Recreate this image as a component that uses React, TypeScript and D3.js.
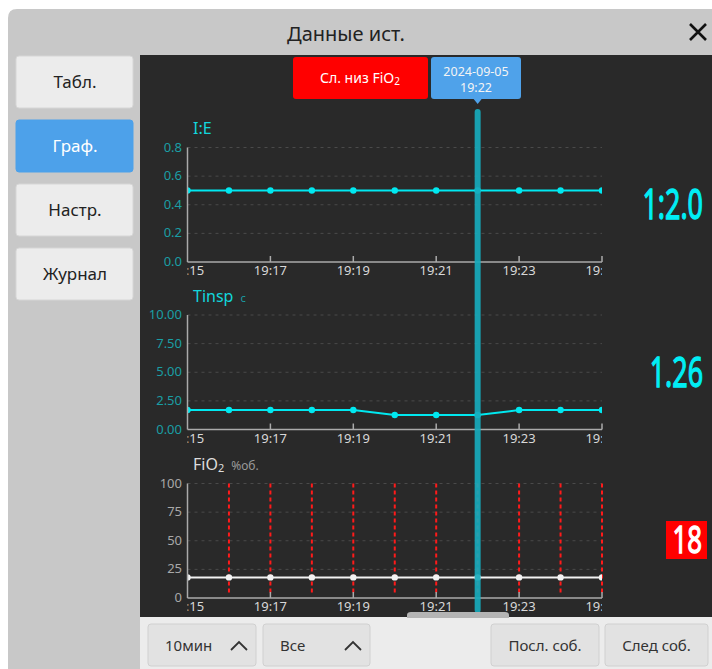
import * as d3 from "d3"

// time axis (minutes shown in the 10 min window)
const timeLabels = ["19:15", "19:16", "19:17", "19:18", "19:19", "19:20", "19:21", "19:22", "19:23", "19:24", "19:25"]
const axisTickTimes = ["19:15", "19:17", "19:19", "19:21", "19:23", "19:25"]
const alarmTimes = ["19:16", "19:17", "19:18", "19:19", "19:20", "19:21", "19:22", "19:23", "19:24", "19:25"]
const cursorTime = "19:22"
const cursorDate = "2024-09-05"

// series
const ieValues = [0.5, 0.5, 0.5, 0.5, 0.5, 0.5, 0.5, 0.5, 0.5, 0.5, 0.5]
const tinspValues = [1.7, 1.7, 1.7, 1.7, 1.7, 1.26, 1.26, 1.26, 1.7, 1.7, 1.7]
const fio2Values = [18, 18, 18, 18, 18, 18, 18, 18, 18, 18, 18]

const ieTicks = [0, 0.2, 0.4, 0.6, 0.8]
const tinspTicks = [0, 2.5, 5, 7.5, 10]
const fio2Ticks = [0, 25, 50, 75, 100]

const menuItems = ["Табл.", "Граф.", "Настр.", "Журнал"]
const activeMenu = "Граф."

const FONT = "'Noto Sans', 'Open Sans', sans-serif"
const parse = d3.timeParse("%Y-%m-%d %H:%M")
const toDate = (t: string) => parse(`${cursorDate} ${t}`) as Date

const X0 = 187.5
const X1 = 602
const PANEL_H = 114.5

const x = d3
  .scaleTime()
  .domain([toDate(timeLabels[0]), toDate(timeLabels[timeLabels.length - 1])])
  .range([X0, X1])

interface PanelProps {
  id: string
  top: number
  ticks: number[]
  fmt: string
  values: number[]
  color: string
  tickColor: string
  title: React.ReactNode
  alarms?: string[]
}

function Panel({ id, top, ticks, fmt, values, color, tickColor, title, alarms }: PanelProps) {
  const y = d3
    .scaleLinear()
    .domain([ticks[0], ticks[ticks.length - 1]])
    .range([top + PANEL_H, top])
  const format = d3.format(fmt)
  const pts = values.map((v, i) => [x(toDate(timeLabels[i])), y(v)] as [number, number])
  const line = d3.line()(pts) || ""
  const bottom = top + PANEL_H
  return (
    <g>
      <defs>
        <clipPath id={`clip-${id}`}>
          <rect x={X0} y={top - 20} width={X1 - X0} height={PANEL_H + 40} />
        </clipPath>
      </defs>
      {title}
      {ticks.map((t) => (
        <g key={t}>
          {t > 0 && (
            <line x1={X0} x2={X1} y1={y(t)} y2={y(t)} stroke="#4a4a4a" strokeDasharray="3,4" />
          )}
          <text x={182} y={y(t) + 4} textAnchor="end" fontSize={13} fill={tickColor} fontFamily={FONT}>
            {format(t)}
          </text>
        </g>
      ))}
      {alarms &&
        alarms.map((a) => (
          <line
            key={a}
            x1={x(toDate(a))}
            x2={x(toDate(a))}
            y1={top}
            y2={bottom - 3}
            stroke="#ff1a1a"
            strokeWidth={2}
            strokeDasharray="4,3"
          />
        ))}
      <g clipPath={`url(#clip-${id})`}>
        <path d={line} fill="none" stroke={color} strokeWidth={2} />
        {pts.map((p, i) => (
          <circle key={i} cx={p[0]} cy={p[1]} r={3.2} fill={color} />
        ))}
        {axisTickTimes.map((t) => (
          <text
            key={t}
            x={x(toDate(t))}
            y={bottom + 13}
            textAnchor="middle"
            fontSize={13}
            fill="#d8d8d8"
            fontFamily={FONT}
          >
            {t}
          </text>
        ))}
      </g>
      {axisTickTimes.slice(1).map((t) => (
        <line key={t} x1={x(toDate(t))} x2={x(toDate(t))} y1={bottom - 6} y2={bottom} stroke="#aaa" strokeWidth={1.5} />
      ))}
      <line x1={X0} x2={X0} y1={top} y2={bottom} stroke="#aaa" strokeWidth={1.5} />
      <line x1={X0} x2={X1} y1={bottom} y2={bottom} stroke="#aaa" strokeWidth={1.5} />
    </g>
  )
}

function Button({ x0, y0, w, h, label, chevron }: { x0: number; y0: number; w: number; h: number; label: string; chevron?: boolean }) {
  return (
    <g>
      <rect x={x0} y={y0} width={w} height={h} rx={3} fill="#e2e2e2" stroke="#d0d0d0" />
      {chevron ? (
        <>
          <text x={x0 + 17} y={y0 + 27} fontSize={15} fill="#333" fontFamily={FONT}>
            {label}
          </text>
          <path
            d={`M${x0 + w - 25},${y0 + 26} L${x0 + w - 17},${y0 + 18} L${x0 + w - 9},${y0 + 26}`}
            fill="none"
            stroke="#333"
            strokeWidth={1.8}
          />
        </>
      ) : (
        <text x={x0 + w / 2} y={y0 + 27} textAnchor="middle" fontSize={15} fill="#333" fontFamily={FONT}>
          {label}
        </text>
      )}
    </g>
  )
}

// big condensed readout, squeezed horizontally with a scale
function Readout({ x0, y0, size, sx, fill, text }: { x0: number; y0: number; size: number; sx: number; fill: string; text: string }) {
  return (
    <text
      transform={`translate(${x0},${y0}) scale(${sx},1)`}
      textAnchor="end"
      fontSize={size}
      fill={fill}
      stroke={fill}
      strokeWidth={1.3}
    >
      {text}
    </text>
  )
}

export default function App() {
  const cx = x(toDate(cursorTime))
  return (
    <svg width={712} height={669} style={{ position: "absolute", left: 0, top: 0 }} fontFamily={FONT}>
      <rect width={712} height={669} fill="#ffffff" />
      {/* dialog frame */}
      <path d="M8,18 Q8,9 17,9 L712,9 L712,669 L8,669 Z" fill="#c8c8c8" />
      <text x={346} y={41} textAnchor="middle" fontSize={20} fill="#222">
        Данные ист.
      </text>
      <path d="M690,24 L706,40 M706,24 L690,40" stroke="#111" strokeWidth={2.6} />

      {/* left menu */}
      {menuItems.map((m, i) => {
        const active = m === activeMenu
        const y0 = 56 + i * 64
        return (
          <g key={m}>
            <rect
              x={16}
              y={y0}
              width={117}
              height={52}
              rx={3}
              fill={active ? "#4da1ea" : "#ececec"}
              stroke={active ? "#4da1ea" : "#d6d6d6"}
            />
            <text x={75} y={y0 + 32} textAnchor="middle" fontSize={17} fill={active ? "#fff" : "#222"}>
              {m}
            </text>
          </g>
        )
      })}

      {/* dark chart area */}
      <rect x={140} y={55} width={572} height={562} fill="#292929" />

      {/* alarm + cursor tooltip */}
      <rect x={293} y={57} width={135} height={42} rx={3} fill="#ff0000" />
      <text x={360} y={83} textAnchor="middle" fontSize={14} fill="#fff">
        Сл. низ FiO<tspan fontSize={10} dy={2}>2</tspan>
      </text>
      <rect x={431} y={57} width={90} height={42} rx={3} fill="#4fa2ea" />
      <path d={`M${cx - 4},99 L${cx},104 L${cx + 4},99 Z`} fill="#4fa2ea" />
      <text x={476} y={76} textAnchor="middle" fontSize={12.5} fill="#f4f4f4">
        {cursorDate}
      </text>
      <text x={476} y={92} textAnchor="middle" fontSize={12.5} fill="#f4f4f4">
        {cursorTime}
      </text>

      <Panel
        id="ie"
        top={147.5}
        ticks={ieTicks}
        fmt=".1f"
        values={ieValues}
        color="#00e8f0"
        tickColor="#1a9ea4"
        title={
          <text x={193} y={134} fontSize={16} fill="#12d6dc">
            I:E
          </text>
        }
      />
      <Panel
        id="tinsp"
        top={315}
        ticks={tinspTicks}
        fmt=".2f"
        values={tinspValues}
        color="#00e8f0"
        tickColor="#1a9ea4"
        title={
          <text x={193} y={302} fontSize={16} fill="#12d6dc">
            Tinsp<tspan dx={7} fontSize={11} fill="#1a9ea4">c</tspan>
          </text>
        }
      />
      <Panel
        id="fio2"
        top={483.5}
        ticks={fio2Ticks}
        fmt="d"
        values={fio2Values}
        color="#f2f2f2"
        tickColor="#a8a8a8"
        alarms={alarmTimes}
        title={
          <text x={193} y={470} fontSize={16} fill="#dddddd">
            FiO<tspan fontSize={11} dy={2}>2</tspan>
            <tspan dx={7} dy={-2} fontSize={12} fill="#999">%об.</tspan>
          </text>
        }
      />

      {/* cursor */}
      <line x1={cx} x2={cx} y1={112} y2={610} stroke="#17abbc" strokeWidth={6} strokeLinecap="round" opacity={0.92} />

      {/* current values */}
      <Readout x0={703} y0={219} size={42} sx={0.64} fill="#00eef5" text="1:2.0" />
      <Readout x0={703} y0={387} size={42} sx={0.64} fill="#00eef5" text="1.26" />
      <rect x={666} y={521} width={41} height={38} fill="#ff0000" />
      <Readout x0={702} y0={553} size={38} sx={0.68} fill="#fff" text="18" />

      {/* bottom bar */}
      <rect x={140} y={617} width={572} height={52} fill="#ececec" />
      <path d="M407,618 L407,615 Q407,612 411,612 L505,612 Q509,612 509,615 L509,618 Z" fill="#b4b4b4" />
      <Button x0={148} y0={624} w={108} h={42} label="10мин" chevron />
      <Button x0={263} y0={624} w={107} h={42} label="Все" chevron />
      <Button x0={491} y0={624} w={108} h={42} label="Посл. соб." />
      <Button x0={605} y0={624} w={103} h={42} label="След соб." />
    </svg>
  )
}
